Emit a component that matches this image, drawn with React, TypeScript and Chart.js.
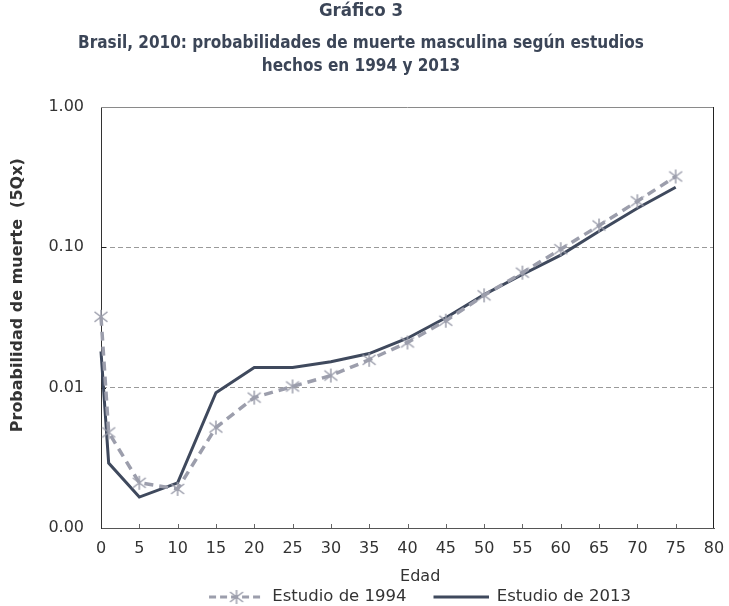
import React, { useEffect, useRef } from 'react';
import { Chart, registerables } from 'chart.js';

Chart.register(...registerables);

const ages = [0, 1, 5, 10, 15, 20, 25, 30, 35, 40, 45, 50, 55, 60, 65, 70, 75];
const estudio1994 = [0.032, 0.0048, 0.0021, 0.0019, 0.0052, 0.0085, 0.0102, 0.0122, 0.0158, 0.021, 0.030, 0.0455, 0.066, 0.097, 0.143, 0.213, 0.32];
const estudio2013 = [0.0181, 0.0029, 0.00166, 0.0021, 0.0092, 0.0139, 0.0139, 0.0153, 0.0175, 0.0225, 0.0315, 0.046, 0.064, 0.088, 0.13, 0.19, 0.268];
const yTickValues = [0.001, 0.01, 0.1, 1];
const yGridValues = [0.01, 0.1];
const xTickValues = [0, 5, 10, 15, 20, 25, 30, 35, 40, 45, 50, 55, 60, 65, 70, 75, 80];
const titleText = 'Gráfico 3';
const subtitleLines = [
  'Brasil, 2010: probabilidades de muerte masculina según estudios',
  'hechos en 1994 y 2013',
];
const seriesNames = ['Estudio de 1994', 'Estudio de 2013'];
const xAxisTitle = 'Edad';
const yAxisTitle = 'Probabilidad de muerte  (5Qx)';

const COLOR_1994 = '#9c9eac';
const COLOR_2013 = '#3f495d';
const FONT = "'DejaVu Sans', sans-serif";
const TITLE_FONT = "'DejaVu Sans Condensed', 'DejaVu Sans', sans-serif";

function makeAsterisk(size: number, color: string, lw: number) {
  const c = document.createElement('canvas');
  c.width = size;
  c.height = size;
  const ctx = c.getContext('2d')!;
  ctx.strokeStyle = color;
  ctx.lineWidth = lw;
  const m = size / 2;
  ctx.beginPath();
  ctx.moveTo(m, 1);
  ctx.lineTo(m, size - 1);
  ctx.moveTo(1.5, 3);
  ctx.lineTo(size - 1.5, size - 3);
  ctx.moveTo(size - 1.5, 3);
  ctx.lineTo(1.5, size - 3);
  ctx.stroke();
  return c;
}

function makeLegendIcon(width: number, blank: number, dashed: boolean, color: string) {
  const h = 16;
  const c = document.createElement('canvas');
  c.width = width;
  c.height = h;
  const ctx = c.getContext('2d')!;
  ctx.strokeStyle = color;
  ctx.lineWidth = 3;
  if (dashed) ctx.setLineDash([7, 4]);
  ctx.beginPath();
  ctx.moveTo(blank, h / 2);
  ctx.lineTo(width, h / 2);
  ctx.stroke();
  if (dashed) {
    const star = makeAsterisk(16, color, 1.5);
    ctx.setLineDash([]);
    ctx.drawImage(star, blank + (width - blank) / 2 - 8, 0);
  }
  return c;
}

const framePlugin = {
  id: 'frame',
  beforeDatasetsDraw(chart: any) {
    const { ctx, chartArea, scales } = chart;
    const { left, right, top, bottom } = chartArea;
    ctx.save();
    ctx.lineWidth = 1;
    ctx.strokeStyle = '#8a8a8a';
    ctx.beginPath();
    ctx.moveTo(left, Math.round(top) + 0.5);
    ctx.lineTo(right, Math.round(top) + 0.5);
    ctx.stroke();
    ctx.strokeStyle = '#222';
    ctx.beginPath();
    ctx.moveTo(Math.round(right) - 0.5, top);
    ctx.lineTo(Math.round(right) - 0.5, bottom);
    ctx.stroke();
    ctx.strokeStyle = '#666';
    xTickValues.forEach((v) => {
      if (v === xTickValues[0] || v === xTickValues[xTickValues.length - 1]) return;
      const px = Math.round(scales.x.getPixelForValue(v)) + 0.5;
      ctx.beginPath();
      ctx.moveTo(px, bottom);
      ctx.lineTo(px, bottom - 4);
      ctx.stroke();
    });
    ctx.strokeStyle = '#222';
    yGridValues.forEach((v) => {
      const py = Math.round(scales.y.getPixelForValue(v)) + 0.5;
      ctx.beginPath();
      ctx.moveTo(left, py);
      ctx.lineTo(left + 5, py);
      ctx.stroke();
    });
    ctx.restore();
  },
};

export default function App() {
  const ref = useRef<HTMLCanvasElement | null>(null);

  useEffect(() => {
    if (!ref.current) return;
    const star = makeAsterisk(16, COLOR_1994, 1.5);
    const iconW = 80;
    const blank = 25;
    const icons = [
      makeLegendIcon(iconW, blank, true, COLOR_1994),
      makeLegendIcon(iconW, blank, false, COLOR_2013),
    ];

    const chart = new Chart(ref.current, {
      type: 'line',
      data: {
        datasets: [
          {
            label: seriesNames[0],
            data: ages.map((a, i) => ({ x: a, y: estudio1994[i] })),
            borderColor: COLOR_1994,
            backgroundColor: COLOR_1994,
            borderWidth: 3.5,
            borderDash: [9, 6],
            pointStyle: star as any,
            pointRadius: 8,
            tension: 0,
            clip: false,
          },
          {
            label: seriesNames[1],
            data: ages.map((a, i) => ({ x: a, y: estudio2013[i] })),
            borderColor: COLOR_2013,
            backgroundColor: COLOR_2013,
            borderWidth: 3,
            pointRadius: 0,
            tension: 0,
            clip: false,
          },
        ],
      },
      plugins: [framePlugin],
      options: {
        animation: false,
        responsive: false,
        maintainAspectRatio: false,
        layout: { padding: { left: 8, right: 15, top: 2, bottom: 0 } },
        plugins: {
          title: {
            display: true,
            text: titleText,
            color: '#3b4557',
            font: { family: TITLE_FONT, size: 18.5, weight: 'bold', lineHeight: 19.2 / 18.5 },
            padding: { top: 0, bottom: 11.6 },
          },
          subtitle: {
            display: true,
            text: subtitleLines,
            color: '#3b4557',
            font: { family: TITLE_FONT, size: 17, weight: 'bold', lineHeight: 22.4 / 17 },
            padding: { top: 0, bottom: 29.4 },
          },
          legend: {
            display: true,
            position: 'bottom',
            fullSize: false,
            maxHeight: 19.25,
            labels: {
              usePointStyle: true,
              pointStyleWidth: iconW,
              boxHeight: 16,
              padding: 2,
              color: '#333',
              font: { family: FONT, size: 16.5 },
              generateLabels: () =>
                seriesNames.map((n, i) => ({
                  text: n,
                  pointStyle: icons[i] as any,
                  fillStyle: 'transparent',
                  strokeStyle: 'transparent',
                  lineWidth: 0,
                  hidden: false,
                  datasetIndex: i,
                  fontColor: '#333',
                })),
            },
          },
          tooltip: { enabled: false },
        },
        scales: {
          x: {
            type: 'linear',
            min: 0,
            max: 80,
            afterBuildTicks: (scale: any) => {
              scale.ticks = xTickValues.map((v) => ({ value: v }));
            },
            afterFit: (scale: any) => {
              scale.height = 58.75;
              scale.paddingLeft = 0;
              scale.paddingRight = 0;
            },
            grid: { display: false, drawTicks: false },
            border: { display: true, color: '#555', width: 1 },
            ticks: {
              color: '#333',
              font: { family: FONT, size: 16 },
              padding: 11,
              maxRotation: 0,
              autoSkip: false,
            },
            title: {
              display: true,
              text: '     ' + xAxisTitle,
              color: '#333',
              font: { family: FONT, size: 16 },
              padding: { top: 0, bottom: 0 },
            },
          },
          y: {
            type: 'logarithmic',
            min: 0.001,
            max: 1,
            afterBuildTicks: (scale: any) => {
              scale.ticks = yTickValues.map((v) => ({ value: v }));
            },
            afterFit: (scale: any) => {
              scale.width = 93;
            },
            grid: {
              drawTicks: false,
              lineWidth: 1,
              color: (ctx: any) =>
                ctx.tick && yGridValues.some((g) => Math.abs(ctx.tick.value - g) < 1e-9)
                  ? '#9a9a9a'
                  : 'rgba(0,0,0,0)',
            },
            border: { display: true, color: '#333', width: 1, dash: [5, 3] },
            ticks: {
              color: '#333',
              font: { family: FONT, size: 16 },
              padding: 17,
              callback: (v: any) => Number(v).toFixed(2),
            },
            title: {
              display: true,
              text: '        ' + yAxisTitle,
              color: '#333',
              font: { family: FONT, size: 16, weight: 'bold' },
              padding: { top: 0, bottom: 0 },
            },
          },
        },
      },
    });
    return () => chart.destroy();
  }, []);

  return (
    <div style={{ position: 'fixed', left: 0, top: 0, width: 729, height: 606, background: '#fff' }}>
      <canvas ref={ref} width={729} height={606} style={{ display: 'block', width: 729, height: 606 }} />
    </div>
  );
}
